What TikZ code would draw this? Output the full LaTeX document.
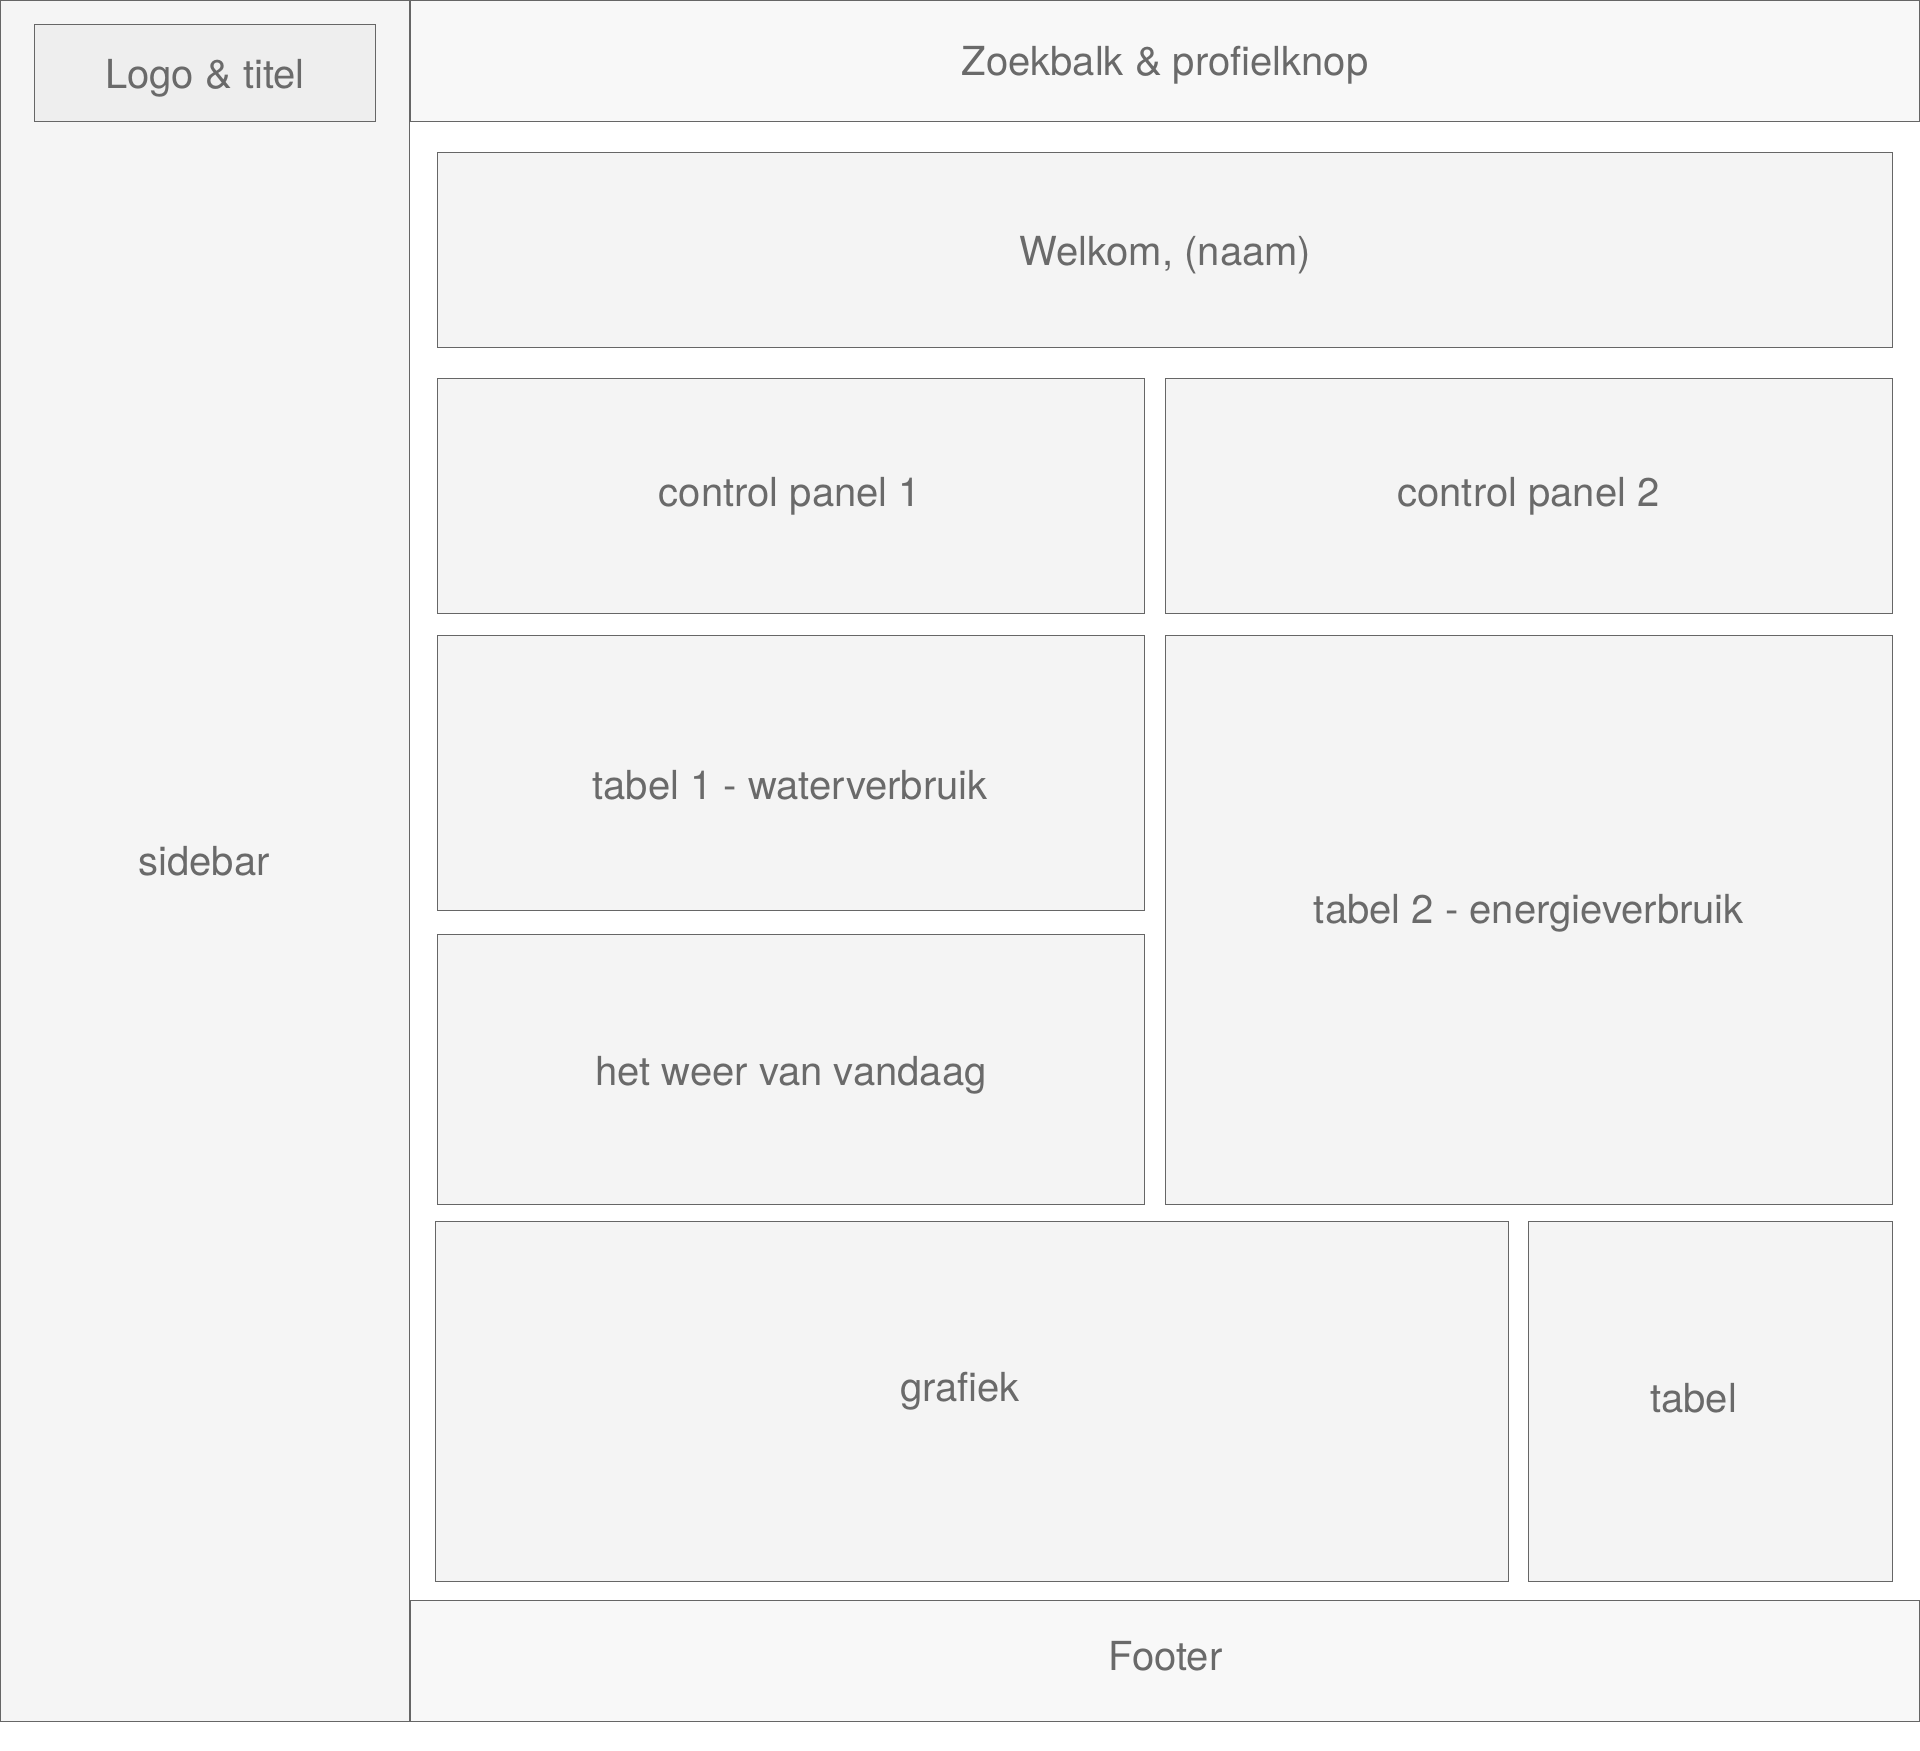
\documentclass[tikz,border=0pt]{standalone}
\usepackage{fontspec}
\setmainfont{TeX Gyre Heros}
\definecolor{strk}{HTML}{666666}
\definecolor{txt}{HTML}{6A6A6A}
\definecolor{sidefill}{HTML}{F5F5F5}
\definecolor{barfill}{HTML}{F8F8F8}
\definecolor{logofill}{HTML}{EEEEEE}
\definecolor{panelfill}{HTML}{F4F4F4}
\newcommand\wbox[6]{\node[#6, minimum width={(#4-#2)*0.5pt}, minimum height={(#5-#3)*0.5pt}] (#1) at ({(#2+#4)/2},{(#3+#5)/2}) {};}
\tikzset{
  frame/.style={draw=strk, line width=0.6pt, rectangle, inner sep=0pt, outer sep=0pt},
  sidebox/.style={frame, fill=sidefill},
  barbox/.style={frame, fill=barfill},
  logobox/.style={frame, fill=logofill},
  panel/.style={frame, fill=panelfill},
  lbl/.style={anchor=base, inner sep=0pt, text=txt, font=\fontsize{20}{24}\selectfont}
}
\begin{document}
\begin{tikzpicture}[x=0.5pt, y=-0.5pt]
\useasboundingbox (0,0) rectangle (1920,1750);
\fill[white] (0,0) rectangle (1920,1750);
% layout frames
\wbox{sidebar}{0.7}{0.7}{409.5}{1721.3}{sidebox}
\wbox{header}{410.5}{0.7}{1919.3}{121.3}{barbox}
\wbox{footer}{410.5}{1600.7}{1919.3}{1721.3}{barbox}
\wbox{logo}{34.3}{24.3}{375.7}{121.3}{logobox}
% content panels
\wbox{welkom}{437.3}{152.3}{1892.3}{347.3}{panel}
\wbox{cp1}{437.3}{378.3}{1144.7}{613.3}{panel}
\wbox{cp2}{1165.3}{378.3}{1892.3}{613.3}{panel}
\wbox{tab1}{437.3}{635.3}{1144.7}{910.3}{panel}
\wbox{weer}{437.3}{934.3}{1144.7}{1204.3}{panel}
\wbox{tab2}{1165.3}{635.3}{1892.3}{1204.3}{panel}
\wbox{grafiek}{435.3}{1221.3}{1508.7}{1581.3}{panel}
\wbox{tabel}{1528.3}{1221.3}{1892.3}{1581.3}{panel}
% labels
\node[lbl] (t-logo) at (205,88.3) {Logo \& titel};
\node[lbl] (t-header) at (1165,75.7) {Zoekbalk \& profielknop};
\node[lbl] (t-welkom) at (1165.5,265) {Welkom, (naam)};
\node[lbl] (t-cp1) at (790,506.5) {control panel 1};
\node[lbl] (t-cp2) at (1528.5,506.5) {control panel 2};
\node[lbl] (t-tab1) at (790,799) {tabel 1 - waterverbruik};
\node[lbl] (t-side) at (204,875.7) {sidebar};
\node[lbl] (t-weer) at (791,1085.5) {het weer van vandaag};
\node[lbl] (t-tab2) at (1528.8,923.7) {tabel 2 - energieverbruik};
\node[lbl] (t-grafiek) at (960,1401.5) {grafiek};
\node[lbl] (t-tabel) at (1693.5,1412) {tabel};
\node[lbl] (t-footer) at (1165.5,1670) {Footer};
\end{tikzpicture}
\end{document}
